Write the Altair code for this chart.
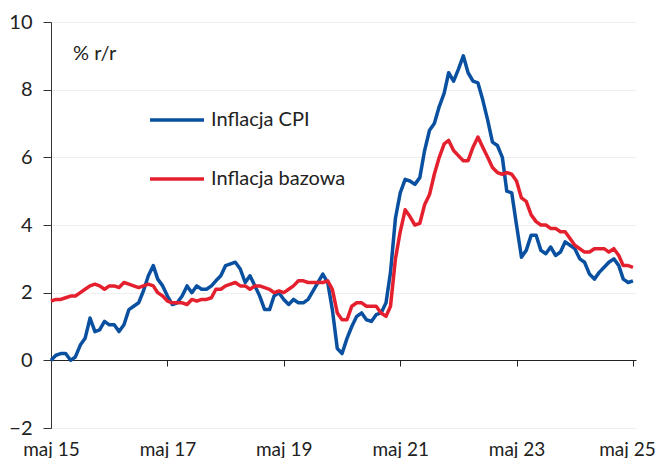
import altair as alt
import pandas as pd

# monthly data, May 2015 - May 2025
start_month = "2015-05-01"
n_months = 121

cpi = [
    0.0, 0.15, 0.2, 0.2, 0.0, 0.1, 0.45, 0.65,
    1.25, 0.85, 0.9, 1.15, 1.05, 1.05, 0.85, 1.05, 1.5, 1.6, 1.7, 2.05,
    2.5, 2.8, 2.4, 2.2, 1.9, 1.65, 1.7, 1.9, 2.2, 2.0, 2.2, 2.1,
    2.1, 2.2, 2.35, 2.5, 2.8, 2.85, 2.9, 2.7, 2.3, 2.5, 2.2, 1.9,
    1.5, 1.5, 1.9, 2.0, 1.8, 1.65, 1.8, 1.7, 1.7, 1.8, 2.05, 2.3,
    2.55, 2.3, 1.5, 0.35, 0.2, 0.65, 1.0, 1.3, 1.4, 1.2, 1.15, 1.35,
    1.4, 1.7, 2.6, 4.2, 4.95, 5.35, 5.3, 5.2, 5.4, 6.2, 6.8, 7.0,
    7.5, 7.9, 8.5, 8.25, 8.6, 9.0, 8.5, 8.25, 8.2, 7.7, 7.1, 6.45,
    6.35, 6.0, 5.0, 4.95, 4.0, 3.05, 3.25, 3.7, 3.7, 3.25, 3.15, 3.35,
    3.1, 3.2, 3.5, 3.4, 3.3, 3.0, 2.9, 2.55, 2.4, 2.6, 2.75, 2.9,
    3.0, 2.8, 2.4, 2.3, 2.35,
]

core = [
    1.75, 1.8, 1.8, 1.85, 1.9, 1.9, 2.0, 2.1,
    2.2, 2.25, 2.2, 2.1, 2.2, 2.2, 2.15, 2.3, 2.25, 2.2, 2.15, 2.2,
    2.25, 2.2, 2.0, 1.9, 1.75, 1.7, 1.7, 1.7, 1.65, 1.8, 1.75, 1.8,
    1.8, 1.85, 2.1, 2.1, 2.2, 2.25, 2.3, 2.2, 2.2, 2.1, 2.2, 2.2,
    2.15, 2.1, 2.0, 2.05, 2.0, 2.1, 2.2, 2.35, 2.35, 2.3, 2.3, 2.3,
    2.3, 2.35, 2.1, 1.4, 1.2, 1.2, 1.6, 1.7, 1.7, 1.6, 1.6, 1.6,
    1.4, 1.3, 1.6, 3.0, 3.8, 4.45, 4.25, 4.0, 4.05, 4.6, 4.9, 5.5,
    6.0, 6.4, 6.5, 6.2, 6.05, 5.9, 5.9, 6.3, 6.6, 6.3, 6.0, 5.7,
    5.55, 5.5, 5.55, 5.5, 5.3, 4.8, 4.7, 4.3, 4.1, 4.0, 4.0, 3.9,
    3.9, 3.8, 3.8, 3.6, 3.4, 3.3, 3.2, 3.2, 3.3, 3.3, 3.3, 3.2,
    3.3, 3.1, 2.8, 2.8, 2.75,
]

series_names = ["Inflacja CPI", "Inflacja bazowa"]
series_colors = ["#0a50a0", "#e5202e"]
y_ticks = [-2, 0, 2, 4, 6, 8, 10]
x_tick_years = [2015, 2017, 2019, 2021, 2023, 2025]
unit_label = "% r/r"

dates = pd.date_range(start_month, periods=n_months, freq="MS").strftime("%Y-%m-%d").tolist()
df = pd.DataFrame({
    "date": dates + dates,
    "series": [series_names[0]] * n_months + [series_names[1]] * n_months,
    "value": cpi + core,
})

FONT = "Lato"
W, H = 585, 406
x_dom = [alt.DateTime(year=2015, month=5, date=1, utc=True),
         alt.DateTime(year=2025, month=5, date=20, utc=True)]
x_vals = [alt.DateTime(year=y, month=5, date=1, utc=True) for y in x_tick_years]
x_scale = alt.Scale(type="utc", domain=x_dom)
y_scale = alt.Scale(domain=[-2, 10], nice=False, zero=False)

lines = alt.Chart(df).mark_line(strokeWidth=3.5, strokeJoin="round").encode(
    x=alt.X("date:T", scale=x_scale,
            axis=alt.Axis(orient="bottom", values=x_vals, title=None, domain=False, ticks=False,
                          tickSize=0, grid=False, labelPadding=12, labelFontSize=19,
                          labelFont=FONT, labelColor="#222222", labelFlush=False,
                          labelOverlap=False, labelBound=False,
                          labelOffset={"condition": {"test": "utcyear(datum.value) == 2025",
                                                     "value": -6}, "value": 0},
                          labelExpr="'maj ' + utcFormat(datum.value, '%y')")),
    y=alt.Y("value:Q", scale=y_scale,
            axis=alt.Axis(values=y_ticks, title=None, domainColor="#333333", tickColor="#333333",
                          tickSize=8, labelPadding=11, labelFontSize=20, labelFont=FONT,
                          labelColor="#222222", gridColor="#eeeeee", gridWidth=1)),
    color=alt.Color("series:N", scale=alt.Scale(domain=series_names, range=series_colors),
                    sort=series_names,
                    legend=alt.Legend(orient="none", legendX=97, legendY=69, title=None,
                                      symbolType="stroke", symbolSize=2916, symbolStrokeWidth=3.5,
                                      labelFontSize=20, labelFont=FONT, labelColor="#222222",
                                      labelOffset=5, rowPadding=20, padding=0)),
)

zero_axis = alt.Chart(df).mark_line(opacity=0).encode(
    x=alt.X("date:T", scale=x_scale,
            axis=alt.Axis(orient="bottom", values=x_vals, title=None, labels=False, domain=True,
                          ticks=True, tickSize=6, grid=False, domainColor="#222222",
                          tickColor="#222222", offset=-round(H / 6))),
    y=alt.Y("value:Q", scale=y_scale),
    detail="series:N",
)

label = alt.Chart(pd.DataFrame({"t": [unit_label]})).mark_text(
    align="left", baseline="alphabetic", fontSize=20, font=FONT, color="#222222"
).encode(x=alt.value(22), y=alt.value(38), text="t:N")

chart = alt.layer(zero_axis, lines, label).resolve_axis(x="independent").properties(
    width=W, height=H,
    autosize=alt.AutoSizeParams(type="none"),
    padding={"left": 43, "top": 14, "right": 24, "bottom": 30},
).configure_view(stroke=None)

chart.save("out.html", embed_options={"renderer": "svg", "actions": False})
